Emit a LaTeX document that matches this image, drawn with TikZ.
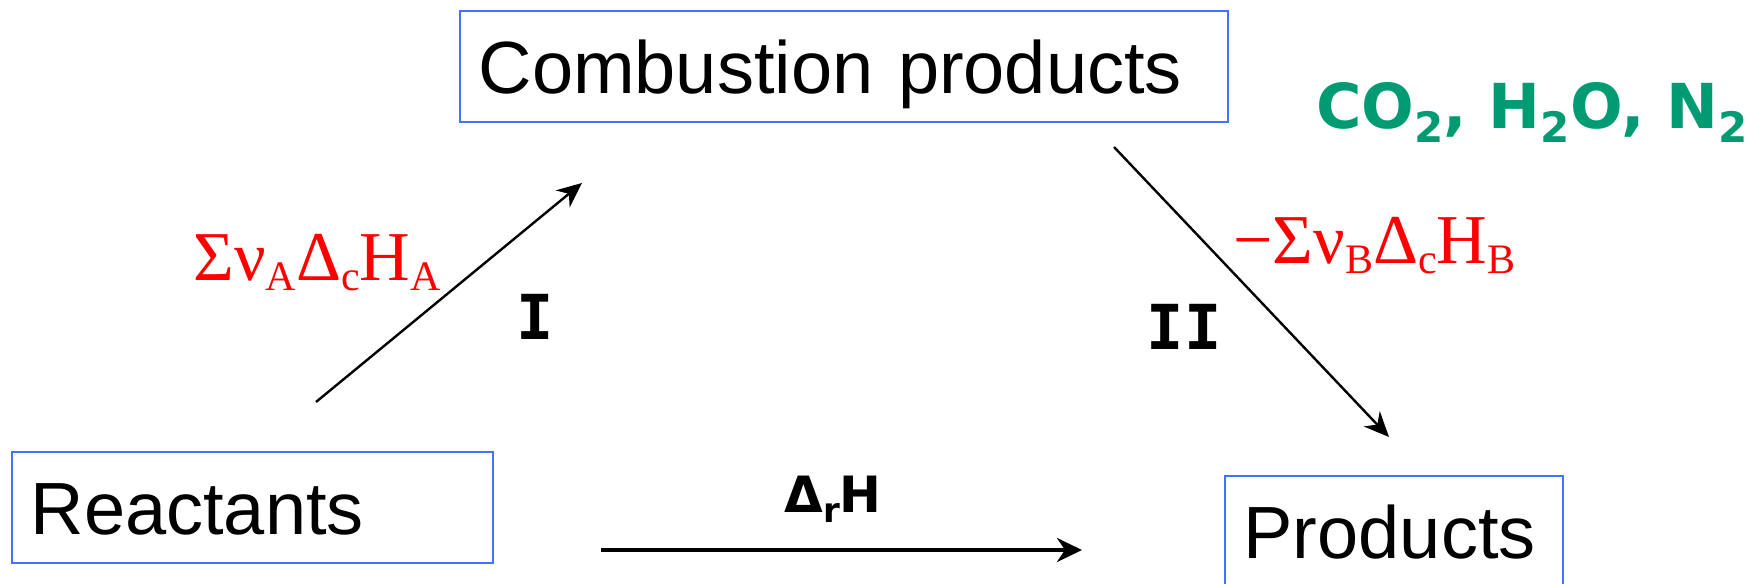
\documentclass[tikz,border=0pt]{standalone}
\usepackage{fontspec}
\setmainfont{Liberation Sans}
\newfontfamily\serifrm{Liberation Serif}
\newfontfamily\comicf{DejaVu Sans}
\newfontfamily\monof{DejaVu Sans Mono}
\usetikzlibrary{arrows.meta}
\definecolor{boxblue}{RGB}{66,114,255}
\definecolor{chemgreen}{RGB}{0,155,114}
\definecolor{labred}{RGB}{255,0,0}
\newcommand\mysub[3]{\raisebox{-#2}{\fontsize{#1}{#1}\selectfont #3}}
\begin{document}
\begin{tikzpicture}[x=0.5pt,y=-0.5pt,
  statebox/.style={draw=boxblue, line width=0.8pt, inner xsep=9.3pt, inner ysep=0pt,
    minimum height=55.5pt, text height=26.5pt, text depth=0pt, align=left,
    font=\fontsize{37}{37}\selectfont},
  redlabel/.style={inner sep=0pt, anchor=base west, text=labred,
    font=\serifrm\fontsize{35}{35}\selectfont},
  romanlabel/.style={inner sep=0pt, font=\monof\bfseries\fontsize{31}{31}\selectfont},
  flow/.style={-{Stealth[length=12.5pt,width=11pt,inset=4pt]}, line width=1.2pt},
  mainflow/.style={-{Stealth[length=12.5pt,width=12pt,inset=4pt]}, line width=2pt}]
\useasboundingbox (0,0) rectangle (1752,584);
\clip (0,0) rectangle (1752,584);

\node[statebox, text width=365.4pt] (comb) at (844,66.5) {Combustion products};
\node[statebox, text width=221.9pt] (reac) at (252.5,507.5) {Reactants};
\node[statebox, text width=150.4pt] (prod) at (1394,531.5) {Products};

\node[inner sep=0pt, anchor=base west, text=chemgreen, font=\comicf\bfseries\fontsize{31}{31}\selectfont]
  (chem) at (1316,128) {CO\mysub{21}{7pt}{2}, H\mysub{21}{7pt}{2}O, N\mysub{21}{7pt}{2}};

\coordinate (aIs) at (316,402);
\coordinate (aIe) at (582,183);
\coordinate (aIIs) at (1114,147);
\coordinate (aIIe) at (1389,437);
\coordinate (aRs) at (601,550);
\coordinate (aRe) at (1082,550);

\draw[flow] (aIs) -- (aIe);
\draw[flow] (aIIs) -- (aIIe);
\draw[mainflow] (aRs) -- (aRe);

\node[redlabel] (sumA) at (193,280) {Σν\mysub{21}{5pt}{A}Δ\mysub{21}{5pt}{c}H\mysub{21}{5pt}{A}};
\node[redlabel] (sumB) at (1233,263) {−Σν\mysub{21}{5pt}{B}Δ\mysub{21}{5pt}{c}H\mysub{21}{5pt}{B}};

\node[romanlabel] (romI) at (535,317) {I};
\node[romanlabel] (romII) at (1184,327) {II};

\node[inner sep=0pt, anchor=base west, font=\comicf\bfseries\fontsize{25}{25}\selectfont]
  (drH) at (784,512) {Δ\mysub{17}{5pt}{r}H};
\end{tikzpicture}
\end{document}
